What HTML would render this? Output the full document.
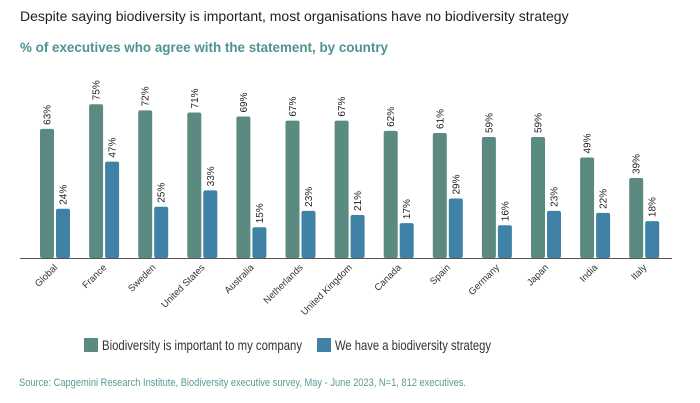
<!DOCTYPE html>
<html><head><meta charset="utf-8"><style>
body{margin:0;width:700px;height:403px;background:#fff;font-family:"Liberation Sans",sans-serif;overflow:hidden;position:relative}
.t{position:absolute;white-space:nowrap}
</style></head><body>
<div class="t" style="left:20px;top:8px;font-size:14px;color:#222">Despite saying biodiversity is important, most organisations have no biodiversity strategy</div>
<svg id="c" width="700" height="403" style="position:absolute;left:0;top:0">
<text x="20" y="52" font-size="14" font-weight="bold" fill="#4d9490" textLength="368" lengthAdjust="spacingAndGlyphs">% of executives who agree with the statement, by country</text>
<g><rect x="84" y="338" width="14" height="14" fill="#5b8a80"/><text x="102" y="350" font-size="14" fill="#333" textLength="200" lengthAdjust="spacingAndGlyphs">Biodiversity is important to my company</text></g>
<g><rect x="317" y="338" width="14" height="14" fill="#3f82a6"/><text x="335" y="350" font-size="14" fill="#333" textLength="156" lengthAdjust="spacingAndGlyphs">We have a biodiversity strategy</text></g>
<text x="19" y="386" font-size="11" fill="#5a9a96" textLength="447" lengthAdjust="spacingAndGlyphs">Source: Capgemini Research Institute, Biodiversity executive survey, May - June 2023, N=1, 812 executives.</text>
</svg>
<script>
const categories=["Global","France","Sweden","United States","Australia","Netherlands","United Kingdom","Canada","Spain","Germany","Japan","India","Italy"];
const important=[63,75,72,71,69,67,67,62,61,59,59,49,39];
const strategy=[24,47,25,33,15,23,21,17,29,16,23,22,18];
const svg=document.getElementById('c');const NS="http://www.w3.org/2000/svg";
const base=258,k=2.05,x0=55,step=49.1,bw=14;
const y=v=>base-v*k;const xc=i=>x0+i*step;
function mk(t,a){const e=document.createElementNS(NS,t);for(const n in a)e.setAttribute(n,a[n]);svg.appendChild(e);return e;}
const ax=mk('line',{x1:20,x2:672,y1:base+0.5,y2:base+0.5,stroke:'#555','stroke-width':1});


categories.forEach((c,i)=>{
 [[important,'#5b8a80',-15],[strategy,'#3f82a6',1]].forEach(([arr,col,off],s)=>{
  const v=arr[i];const x=xc(i)+off;
  const r=mk('rect',{x:x,y:y(v),width:bw,height:v*k,fill:col,rx:2});
  
  
  const t=mk('text',{transform:`translate(${x+bw/2+3.5},${y(v)-4}) rotate(-90)`,'font-size':10,fill:'#222'});
  t.textContent=v+'%';
  
  
 });
 const l=mk('text',{transform:`translate(${xc(i)+3},${base+10}) rotate(-45)`,'font-size':9.5,fill:'#333','text-anchor':'end'});
 l.textContent=c;
 
 
});
</script>
</body></html>
